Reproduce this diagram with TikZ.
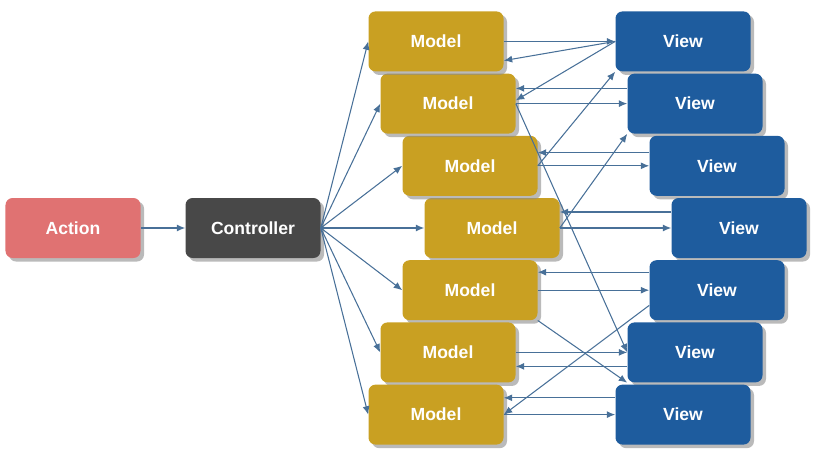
\documentclass[tikz,border=0pt]{standalone}
\usepackage{fontspec}
\setmainfont{Liberation Sans}
\usepackage{tikz}
\usetikzlibrary{shapes,positioning,shadows,arrows.meta}
\definecolor{actionred}{RGB}{224,114,114}
\definecolor{ctrlgrey}{RGB}{72,72,72}
\definecolor{modelgold}{RGB}{201,160,34}
\definecolor{viewblue}{RGB}{30,92,158}
\definecolor{linkblue}{RGB}{72,112,152}

\begin{document}
\begin{tikzpicture}[-{Latex[length=6pt,width=5pt]}, node distance=4.5cm, on grid,
	box/.style={rectangle, rounded corners=5pt, minimum width=3.375cm, minimum height=1.5cm, text=white, font=\bfseries\fontsize{12.5}{14}\selectfont, drop shadow={shadow xshift=2.5pt, shadow yshift=-2.5pt, fill=black!45, opacity=0.6}},
	model/.style={box, fill=modelgold},
	view/.style={box, fill=viewblue},
	linkline/.style={draw=linkblue, line width=0.75pt}]
		\useasboundingbox (0,0) rectangle (20.625,-11.825);
		\node [box, fill=actionred] (action) at (1.825,-5.7) {Action};
		\node [box, fill=ctrlgrey] (controller) [right of=action] {Controller};
		% models, staggered round the middle one
		\node [model] (m4) [right=5.975cm of controller] {Model};
		\node [model] (m3) [above left=1.555cm and 0.55cm of m4] {Model};
		\node [model] (m2) [above left=1.555cm and 0.55cm of m3] {Model};
		\node [model] (m1) [above left=1.555cm and 0.3cm of m2] {Model};
		\node [model] (m5) [below left=1.555cm and 0.55cm of m4] {Model};
		\node [model] (m6) [below left=1.555cm and 0.55cm of m5] {Model};
		\node [model] (m7) [below left=1.555cm and 0.3cm of m6] {Model};
		% views
		\node [view] (v1) [right=6.175cm of m1] {View};
		\node [view] (v2) [right=6.175cm of m2] {View};
		\node [view] (v3) [right=6.175cm of m3] {View};
		\node [view] (v4) [right=6.175cm of m4] {View};
		\node [view] (v5) [right=6.175cm of m5] {View};
		\node [view] (v6) [right=6.175cm of m6] {View};
		\node [view] (v7) [right=6.175cm of m7] {View};
		\path (action) edge [linkline] (controller);
		\path (controller.east) edge [linkline] (m1.west);
		\path (controller.east) edge [linkline] (m2.west);
		\path (controller.east) edge [linkline] (m3.west);
		\path (controller.east) edge [linkline] (m4.west);
		\path (controller.east) edge [linkline] (m5.west);
		\path (controller.east) edge [linkline] (m6.west);
		\path (controller.east) edge [linkline] (m7.west);
		% model to view and back
		\path (m1.east) edge [linkline] (v1.west);
		\path (v1.west) edge [linkline] ([yshift=-0.48cm]m1.east);
		\path (v1.west) edge [linkline] ([yshift=0.08cm]m2.east);
		\path ([yshift=0.38cm]v2.west) edge [linkline] ([yshift=0.38cm]m2.east);
		\path (m2.east) edge [linkline] (v2.west);
		\path ([yshift=0.33cm]v3.west) edge [linkline] ([yshift=0.33cm]m3.east);
		\path (m3.east) edge [linkline] (v3.west);
		\path ([yshift=0.4cm]v4.west) edge [linkline] ([yshift=0.4cm]m4.east);
		\path (m4.east) edge [linkline] (v4.west);
		\path ([yshift=0.45cm]v5.west) edge [linkline] ([yshift=0.45cm]m5.east);
		\path (m5.east) edge [linkline] (v5.west);
		\path (m6.east) edge [linkline] (v6.west);
		\path ([yshift=-0.35cm]v6.west) edge [linkline] ([yshift=-0.35cm]m6.east);
		\path ([yshift=0.42cm]v7.west) edge [linkline] ([yshift=0.42cm]m7.east);
		\path (m7.east) edge [linkline] (v7.west);
		% the crossing ones
		\path (m3.east) edge [linkline] (v1.south west);
		\path (m4.east) edge [linkline] (v2.south west);
		\path (m2.east) edge [linkline] (v6.west);
		\path (m5.south east) edge [linkline] (v6.south west);
		\path ([yshift=-0.38cm]v5.west) edge [linkline] (m7.east);
\end{tikzpicture}
\end{document}
